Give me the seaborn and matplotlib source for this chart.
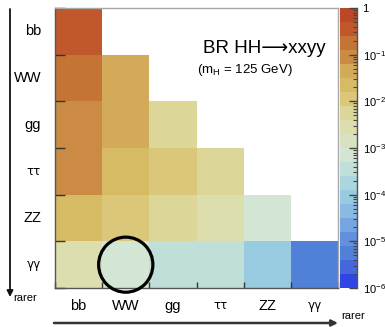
import numpy as np
import pandas as pd
import matplotlib
matplotlib.use("Agg")
import matplotlib.pyplot as plt
import seaborn as sns
from matplotlib.colors import ListedColormap, LogNorm
from matplotlib.patches import Ellipse
from matplotlib.ticker import LogLocator, NullFormatter

plt.rcParams['font.family'] = ['Liberation Sans', 'DejaVu Sans']
plt.rcParams['mathtext.fontset'] = 'custom'
plt.rcParams['mathtext.rm'] = 'Liberation Sans'
plt.rcParams['mathtext.it'] = 'Liberation Sans:italic'
plt.rcParams['mathtext.bf'] = 'Liberation Sans:bold'

# ---- data ----
channels = ["bb", "WW", "gg", "ττ", "ZZ", "γγ"]
br_bb = [0.337]
br_WW = [0.250, 0.0463]
br_gg = [0.0950, 0.0352, 0.00669]
br_tautau = [0.0727, 0.0269, 0.0102, 0.0041]
br_ZZ = [0.0307, 0.0114, 0.00432, 0.00330, 0.000697]
br_gamgam = [0.00264, 0.000977, 0.000371, 0.000284, 0.000120, 5.15e-6]
cbar_ticks = [1e-6, 1e-5, 1e-4, 1e-3, 1e-2, 1e-1, 1]
cbar_labels = [r"$10^{-6}$", r"$10^{-5}$", r"$10^{-4}$", r"$10^{-3}$",
               r"$10^{-2}$", r"$10^{-1}$", "1"]

# palette, from highest (top of colour bar) to lowest
palette_top_down = ["#bc4628", "#c0582b", "#c47535", "#cb8b45", "#d3a95a",
                    "#d6bb64", "#dac77a", "#dcd698", "#dcdeae", "#d8e2c0",
                    "#d3e6d3", "#bfdfd8", "#acd5de", "#98cae0", "#88bae2",
                    "#76a6e2", "#6290de", "#5080d8", "#4468dc", "#2f45e6"]
cmap = ListedColormap(palette_top_down[::-1])

rows = [br_bb, br_WW, br_gg, br_tautau, br_ZZ, br_gamgam]
mat = np.full((len(channels), len(channels)), np.nan)
for i, r in enumerate(rows):
    mat[i, :len(r)] = r
df = pd.DataFrame(mat, index=channels, columns=channels)
mask = np.isnan(mat)

W, H = 385, 327
fig = plt.figure(figsize=(W / 100, H / 100), dpi=100)
ax = fig.add_axes([55 / W, 1 - 288 / H, 283 / W, 280 / H])
cax = fig.add_axes([340 / W, 1 - 288 / H, 17 / W, 280 / H])

sns.heatmap(df, mask=mask, cmap=cmap, norm=LogNorm(vmin=1e-6, vmax=1),
            ax=ax, cbar_ax=cax, linewidths=0, square=False)

# tick labels centred in cells
ax.set_xticks(np.arange(6) + 0.5)
ax.set_yticks(np.arange(6) + 0.5)
ax.set_xticklabels(channels)
ax.set_yticklabels(channels, rotation=0)
for lab in ax.get_xticklabels() + ax.get_yticklabels():
    if lab.get_text() in ("ττ", "γγ"):
        lab.set_fontsize(8.5)
        lab.set_family(['DejaVu Sans'])
    else:
        lab.set_fontsize(10.5)
ax.tick_params(axis='both', which='major', length=0)
ax.tick_params(axis='y', which='major', pad=10)
ax.tick_params(axis='x', which='major', pad=8)
ax.set_yticks(np.arange(7), minor=True)
ax.set_xticks(np.arange(7), minor=True)
ax.tick_params(axis='y', which='minor', direction='in', length=7, width=1,
               color='#333333', left=True)
ax.tick_params(axis='x', which='minor', direction='in', length=4.5, width=1,
               color='#333333', bottom=True)
ax.set_xlabel("")
ax.set_ylabel("")

for s in ['top', 'right', 'left', 'bottom']:
    ax.spines[s].set_visible(True)
    ax.spines[s].set_linewidth(1)
for s in ['top', 'right']:
    ax.spines[s].set_color('#a8a8a8')
for s in ['left', 'bottom']:
    ax.spines[s].set_color('#555555')

# circle around WW-γγ
ax.add_patch(Ellipse((1.5, 5.5), width=1.15, height=1.18, fill=False,
                     lw=2.3, ec='black', clip_on=False, zorder=5))

# colour bar
cb = ax.collections[0].colorbar
cb.outline.set_visible(False)
cax.yaxis.set_ticks_position('right')
cax.set_yticks(cbar_ticks)
cax.set_yticklabels(cbar_labels)
cax.yaxis.set_minor_locator(LogLocator(base=10, subs=np.arange(2, 10)))
cax.yaxis.set_minor_formatter(NullFormatter())
cax.tick_params(which='major', direction='in', length=6, width=1,
                color='#444444', labelsize=8, pad=4)
cax.tick_params(which='minor', direction='in', length=3, width=0.8,
                color='#444444')
cax.plot([1, 1], [0, 1], transform=cax.transAxes, color='#555555', lw=1,
         clip_on=False)

# titles
fig.text(203 / W, 1 - 53 / H, "BR HH⟶xxyy", fontsize=13.5, va='baseline',
         family=['Liberation Sans', 'DejaVu Sans'])
fig.text(197 / W, 1 - 72.5 / H, r"(m$_{\mathrm{H}}$ = 125 GeV)", fontsize=9.5,
         va='baseline')

# "rarer" arrows
ax.annotate('', xy=(10, H - 297), xytext=(10, H - 9),
            xycoords='figure pixels', textcoords='figure pixels',
            annotation_clip=False,
            arrowprops=dict(arrowstyle='-|>', color='#111111', lw=1.3,
                            mutation_scale=9, shrinkA=0, shrinkB=0))
ax.annotate('', xy=(338, H - 323), xytext=(54, H - 323),
            xycoords='figure pixels', textcoords='figure pixels',
            annotation_clip=False,
            arrowprops=dict(arrowstyle='-|>', color='#333333', lw=1.8,
                            mutation_scale=9, shrinkA=0, shrinkB=0))
fig.text(13 / W, 1 - 301 / H, "rarer", fontsize=8, va='baseline')
fig.text(341 / W, 1 - 319 / H, "rarer", fontsize=8, va='baseline')

fig.savefig("out.png", dpi=100)
